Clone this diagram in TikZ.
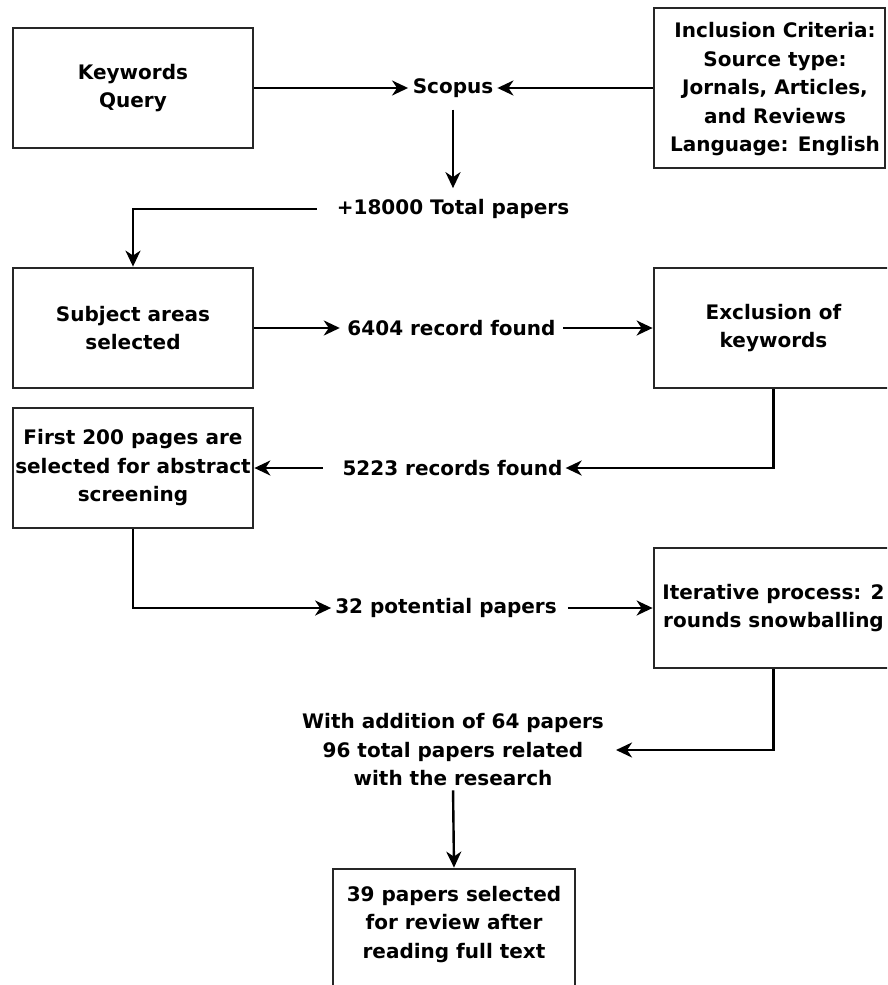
\documentclass[tikz,border=0pt]{standalone}
\usepackage{fontspec}
\setmainfont{DejaVu Sans}
\usetikzlibrary{arrows.meta}

\tikzset{
  txtfont/.style={font=\bfseries\fontsize{20}{28.5}\selectfont},
  box/.style={draw=black!85, line width=2.8pt, inner sep=0pt, align=center, txtfont},
  lbl/.style={inner sep=0pt, align=center, txtfont},
  arr/.style={draw=black, line width=2.4pt, -{Stealth[length=16pt,width=15pt,inset=5pt]}},
}

\begin{document}
\begin{tikzpicture}[x=1pt,y=-1pt]
\useasboundingbox (0,0) rectangle (887,985);
\fill[white] (0,0) rectangle (887,985);
\clip (0,0) rectangle (887,985);

% process boxes
\node[box, minimum width=240pt, minimum height=120pt] (kw) at (133,88) {Keywords\\Query};
\node[box, minimum width=231pt, minimum height=160pt] (inc) at (769.5,88) {};
\node[lbl] (inctxt) at (775,89.5) {Inclusion Criteria:\\Source type:\\Jornals, Articles,\\and Reviews\\Language: English};
\node[box, minimum width=240pt, minimum height=120pt] (sub) at (133,328) {Subject areas\\selected};
\node[box, minimum width=239pt, minimum height=120pt] (exc) at (773.5,328) {Exclusion of\\keywords};
\node[box, minimum width=240pt, minimum height=120pt] (first) at (133,468) {First 200 pages are\\selected for abstract\\screening};
\node[box, minimum width=239pt, minimum height=120pt] (iter) at (773.5,608) {Iterative process: 2\\rounds snowballing};
\node[box, minimum width=242pt, minimum height=120pt] (final) at (454,929) {};
\node[lbl] (finaltxt) at (454,924.5) {39 papers selected\\for review after\\reading full text};

% free-standing labels
\node[lbl] (scopus) at (453,88) {Scopus};
\node[lbl] (total) at (453,209) {+18000 Total papers};
\node[lbl] (r6404) at (451.5,328) {6404 record found};
\node[lbl] (r5223) at (452.5,468) {5223 records found};
\node[lbl] (p32) at (446,608) {32 potential papers};
\node[lbl] (addn) at (453,750) {With addition of 64 papers\\96 total papers related\\with the research};

% connectors
\draw[arr, shorten >=4.5pt] (kw.east) -- (scopus.west);
\draw[arr, shorten >=4pt] (inc.west) -- (scopus.east);
\draw[arr, shorten <=12pt, shorten >=11pt] (scopus.south) -- (total.north);
\draw[arr] ([xshift=-20pt]total.west) -| (sub.north);
\draw[arr, shorten >=7.5pt] (sub.east) -- (r6404.west);
\draw[arr, shorten <=7.5pt] (r6404.east) -- (exc.west);
\draw[arr, shorten >=3pt] (exc.south) |- (r5223.east);
\draw[arr, shorten <=19.5pt] (r5223.west) -- (first.east);
\draw[arr, shorten >=4pt] (first.south) |- (p32.west);
\draw[arr, shorten <=11pt] (p32.east) -- (iter.west);
\draw[arr, shorten >=12pt] (iter.south) |- (addn.east);
\draw[arr, shorten <=4pt] (addn.south) -- (final.north);
\end{tikzpicture}
\end{document}
